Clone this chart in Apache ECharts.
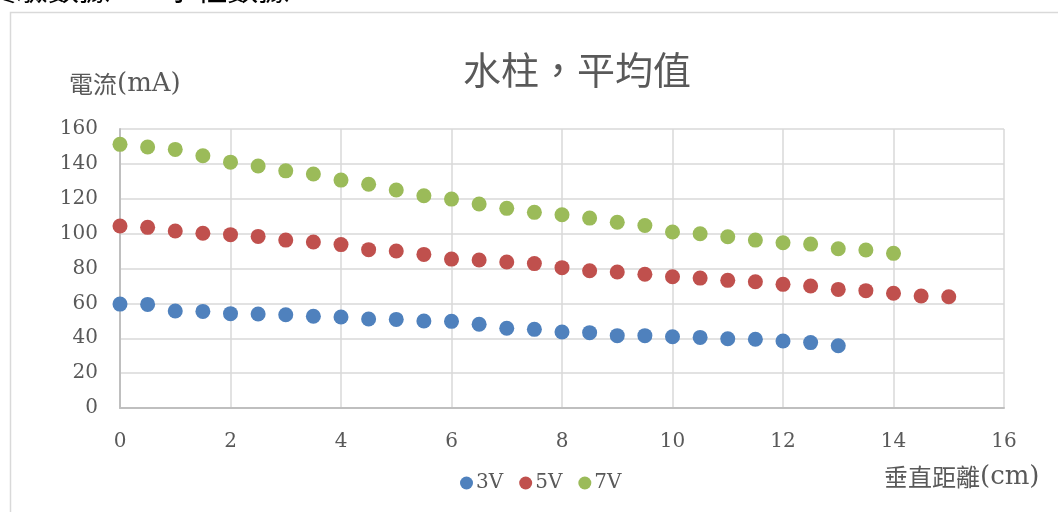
<!DOCTYPE html>
<html>
<head>
<meta charset="utf-8">
<title>水柱，平均值</title>
<script src="https://cdn.jsdelivr.net/npm/echarts@6/dist/echarts.min.js"></script>
<style>
  html, body { margin: 0; padding: 0; background: #ffffff; }
  #chart { width: 1058px; height: 512px; }
</style>
</head>
<body>
<div id="chart"></div>
<script>
// Vertical distance (cm) for each measurement
const distance = [0, 0.5, 1, 1.5, 2, 2.5, 3, 3.5, 4, 4.5, 5, 5.5, 6, 6.5, 7, 7.5,
                  8, 8.5, 9, 9.5, 10, 10.5, 11, 11.5, 12, 12.5, 13, 13.5, 14, 14.5, 15];

// Average current (mA) at each supply voltage
const current3V = [59.6, 59.4, 55.6, 55.4, 54.1, 53.9, 53.5, 52.6, 52.2, 51.0, 50.8, 49.9, 49.7,
                   48.0, 45.7, 45.1, 43.6, 43.2, 41.5, 41.5, 40.9, 40.5, 39.7, 39.4, 38.4, 37.5, 35.7];
const current5V = [104.4, 103.6, 101.5, 100.2, 99.4, 98.4, 96.3, 95.2, 93.7, 90.8, 90.0, 88.1, 85.4,
                   84.9, 83.7, 82.8, 80.5, 78.7, 78.0, 76.7, 75.3, 74.5, 73.2, 72.4, 70.9, 70.0,
                   68.0, 67.3, 65.8, 64.2, 63.8];
const current7V = [151.2, 149.7, 148.3, 144.7, 141.0, 138.8, 136.0, 134.2, 130.7, 128.3, 125.0, 121.7,
                   119.8, 117.0, 114.5, 112.2, 110.8, 108.9, 106.5, 104.7, 100.9, 99.9, 98.2, 96.3,
                   94.8, 94.0, 91.3, 90.6, 88.7];

const seriesNames = ['3V', '5V', '7V'];
const seriesColors = ['#4F81BD', '#C0504D', '#9BBB59'];

const pairs = (vals) => vals.map((v, i) => [distance[i], v]);

const numFont = '"DejaVu Serif", "Noto Sans CJK TC", serif';
const cjkFont = '"Noto Sans CJK TC", "DejaVu Serif", sans-serif';
const textGrey = '#595959';

// Axis captions: CJK words in the CJK face, units in the serif face
const captionRich = {
  c: { fontFamily: cjkFont, fontSize: 24, fill: textGrey },
  u: { fontFamily: numFont, fontSize: 26, fill: textGrey }
};

const chart = echarts.init(document.getElementById('chart'), null, { renderer: 'canvas' });

chart.setOption({
  animation: false,
  backgroundColor: '#ffffff',
  title: {
    text: '水柱，平均值',
    left: 572,
    top: 46,
    textAlign: 'center',
    textStyle: { fontFamily: cjkFont, fontSize: 38, fontWeight: 'normal', color: textGrey }
  },
  graphic: [
    {
      type: 'text',
      left: -14,
      top: -27,
      style: { text: '實驗數據 2：水柱數據', fontFamily: cjkFont, fontSize: 31, fill: '#000000' }
    },
    {
      type: 'rect',
      shape: { x: 10.5, y: 12.5, width: 1200, height: 700 },
      style: { fill: 'none', stroke: '#d9d9d9', lineWidth: 1.5 },
      z: -1
    },
    {
      type: 'text',
      left: 69,
      top: 71,
      style: { text: '{c|電流}{u|(mA)}', rich: captionRich }
    },
    {
      type: 'text',
      left: 884,
      top: 464,
      style: { text: '{c|垂直距離}{u|(cm)}', rich: captionRich }
    }
  ],
  legend: {
    data: seriesNames,
    left: 455,
    top: 468,
    icon: 'circle',
    itemWidth: 13,
    itemHeight: 13,
    itemGap: 16,
    textStyle: { fontFamily: numFont, fontSize: 20, color: textGrey, padding: [0, 0, 0, -2] }
  },
  grid: { left: 120, right: 54, top: 129, bottom: 104, containLabel: false },
  xAxis: {
    type: 'value',
    min: 0,
    max: 16,
    interval: 2,
    axisLine: { show: true, onZero: false, lineStyle: { color: '#bfbfbf', width: 2 } },
    axisTick: { show: false },
    axisLabel: { margin: 24, fontFamily: numFont, fontSize: 20, color: textGrey },
    splitLine: { show: true, lineStyle: { color: '#d9d9d9', width: 1.5 } }
  },
  yAxis: {
    type: 'value',
    min: 0,
    max: 160,
    interval: 20,
    axisLine: { show: true, onZero: false, lineStyle: { color: '#bfbfbf', width: 2 } },
    axisTick: { show: false },
    axisLabel: { margin: 22, fontFamily: numFont, fontSize: 20, color: textGrey },
    splitLine: { show: true, lineStyle: { color: '#d9d9d9', width: 1.5 } }
  },
  series: [current3V, current5V, current7V].map((vals, k) => ({
    name: seriesNames[k],
    type: 'scatter',
    data: pairs(vals),
    symbol: 'circle',
    symbolSize: 15,
    itemStyle: { color: seriesColors[k], opacity: 1 }
  }))
});
</script>
</body>
</html>
